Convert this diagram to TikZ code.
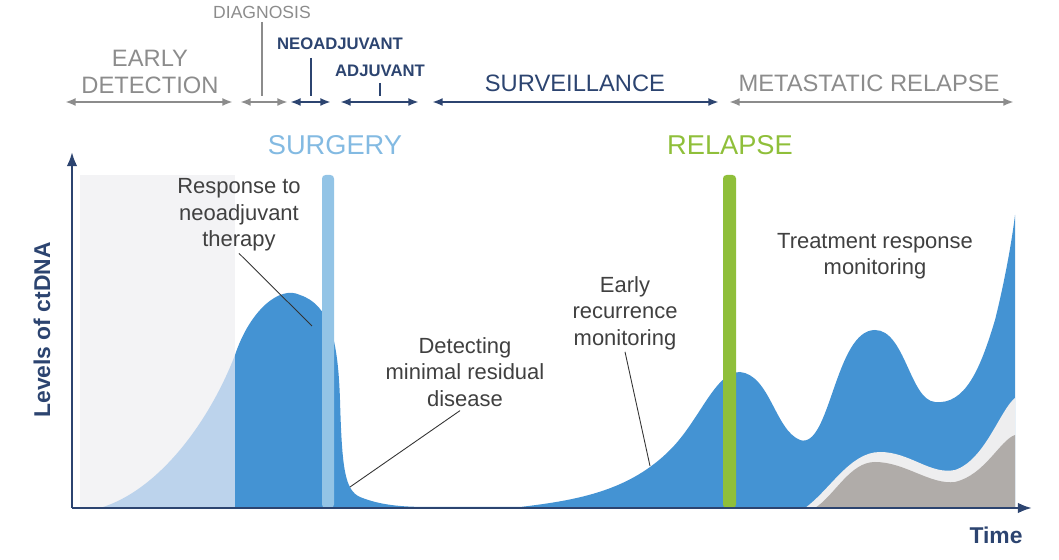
\documentclass[tikz,border=0pt]{standalone}
\usepackage{fontspec}
\setmainfont{Liberation Sans}
\usetikzlibrary{arrows.meta}
\definecolor{ctblue}{HTML}{4493D3}
\definecolor{ctlight}{HTML}{BCD3EC}
\definecolor{barblue}{HTML}{93C4E6}
\definecolor{ctgreen}{HTML}{8FBF3A}
\definecolor{ctdark}{HTML}{2C4470}
\definecolor{ctgray}{HTML}{8C8C8C}
\definecolor{ctstone}{HTML}{B0ACA9}
\definecolor{ctband}{HTML}{EEEEEF}
\definecolor{ctshade}{HTML}{F3F3F5}
\tikzset{
  phase/.style={{Latex[length=6pt]}-{Latex[length=6pt]}, line width=1.6pt},
  phaselbl/.style={font=\fontsize{13.5}{15.5}\selectfont, align=center},
  smalllbl/.style={font=\bfseries\fontsize{9.5}{11}\selectfont},
  note/.style={font=\fontsize{12.5}{15}\selectfont, align=center, text=black!75},
  pointer/.style={black!80, line width=0.5pt}
}
\begin{document}
\begin{tikzpicture}[x=0.02cm,y=-0.02cm]
        \useasboundingbox (0,0) rectangle (1059,560);
        \fill[ctshade] (80,175) rectangle (235,508);
        % curves
        \fill[ctlight] (100,508) .. controls (160,490) and (210,420) .. (235,355) -- (235,508) -- cycle;
        \fill[ctblue] (235,508) -- (235,355) .. controls (250,310) and (280,285) .. (300,295)
          .. controls (330,305) and (338,340) .. (340,400) .. controls (342,470) and (345,490) .. (360,497)
          .. controls (380,505) and (400,507) .. (430,507) -- (520,507)
          .. controls (580,500) and (630,490) .. (670,450) .. controls (700,420) and (715,372) .. (740,372)
          .. controls (770,375) and (775,430) .. (800,440) .. controls (830,450) and (835,330) .. (875,330)
          .. controls (905,330) and (910,400) .. (935,402) .. controls (965,405) and (980,370) .. (995,320)
          .. controls (1005,280) and (1012,240) .. (1015,215) -- (1015,508) -- cycle;
        \fill[ctband] (805,508) .. controls (830,490) and (850,452) .. (880,452)
          .. controls (910,452) and (930,475) .. (955,470) .. controls (985,460) and (1000,410) .. (1015,398) -- (1015,508) -- cycle;
        \fill[ctstone] (815,508) .. controls (835,495) and (850,462) .. (875,462)
          .. controls (905,462) and (930,485) .. (955,482) .. controls (985,475) and (1000,440) .. (1015,435) -- (1015,508) -- cycle;
        % bars
        \fill[barblue, rounded corners=2pt] (322,175) rectangle (334,508);
        \fill[ctgreen, rounded corners=2pt] (723,175) rectangle (736,508);
        % axes
        \coordinate (o) at (72,508);
        \coordinate (ytop) at (72,152);
        \coordinate (xend) at (1032,508);
        \draw[ctdark, line width=1.4pt, -{Latex[length=8pt]}] (o) -- (ytop);
        \draw[ctdark, line width=1.4pt, -{Latex[length=8pt]}] (o) -- (xend);
        \node[rotate=90, text=ctdark, font=\bfseries\fontsize{13}{15}\selectfont] (ylbl) at (42,330) {Levels of ctDNA};
        \node[text=ctdark, font=\bfseries\fontsize{13}{15}\selectfont] (xlbl) at (996,535) {Time};
        \node[text=barblue!80!ctblue, font=\fontsize{15.5}{18}\selectfont] (surg) at (335,145) {SURGERY};
        \node[text=ctgreen, font=\fontsize{15.5}{18}\selectfont] (rel) at (730,145) {RELAPSE};
        % phases
        \coordinate (e1) at (65,102); \coordinate (e2) at (233,102);
        \draw[phase, ctgray] (e1) -- (e2);
        \node[phaselbl, text=ctgray] (early) at (150,72) {EARLY\\DETECTION};
        \coordinate (d1) at (240,102); \coordinate (d2) at (288,102);
        \draw[phase, ctgray] (d1) -- (d2);
        \node[text=ctgray, font=\fontsize{10}{12}\selectfont] (diag) at (262,12) {DIAGNOSIS};
        \draw[ctgray, line width=1.6pt] (262,22) -- (262,96);
        \coordinate (n1) at (290,102); \coordinate (n2) at (331,102);
        \draw[phase, ctdark] (n1) -- (n2);
        \node[smalllbl, text=ctdark] (neo) at (340,44) {NEOADJUVANT};
        \draw[ctdark, line width=1.6pt] (311,58) -- (311,96);
        \coordinate (a1) at (340,102); \coordinate (a2) at (419,102);
        \draw[phase, ctdark] (a1) -- (a2);
        \node[smalllbl, text=ctdark] (adj) at (380,71) {ADJUVANT};
        \draw[ctdark, line width=1.6pt] (380,83) -- (380,96);
        \coordinate (s1) at (432,102); \coordinate (s2) at (719,102);
        \draw[phase, ctdark] (s1) -- (s2);
        \node[phaselbl, text=ctdark] (surv) at (575,83) {SURVEILLANCE};
        \coordinate (m1) at (729,102); \coordinate (m2) at (1014,102);
        \draw[phase, ctgray] (m1) -- (m2);
        \node[phaselbl, text=ctgray] (meta) at (869,83) {METASTATIC RELAPSE};
        % notes
        \node[note] (resp) at (239,215) {Response to\\neoadjuvant\\therapy};
        \coordinate (resptip) at (312,326);
        \draw[pointer] (resp.south) ++(0,-4) -- (resptip);
        \node[note] (mrd) at (465,372) {Detecting\\minimal residual\\disease};
        \coordinate (mrdtip) at (350,487);
        \draw[pointer] (mrd.south) ++(-5,-2) -- (mrdtip);
        \node[note] (erm) at (625,313) {Early\\recurrence\\monitoring};
        \coordinate (ermtip) at (650,466);
        \draw[pointer] (erm.south) ++(0,-4) -- (ermtip);
        \node[note] (trm) at (875,256) {Treatment response\\monitoring};
\end{tikzpicture}
\end{document}
